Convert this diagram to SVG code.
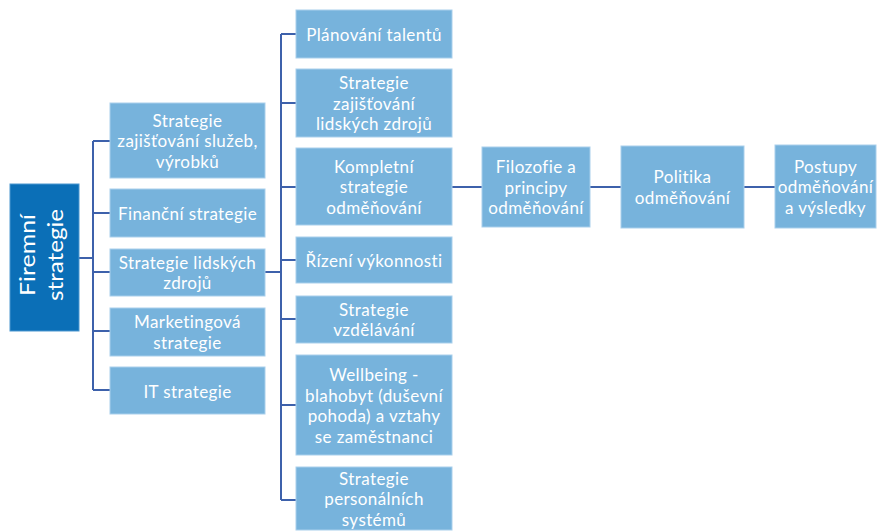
<svg xmlns="http://www.w3.org/2000/svg" width="878" height="531" viewBox="0 0 878 531">
  <style>
    .box { fill: #77b3dc; stroke: #a9cfec; stroke-width: 1; }
    .root { fill: #0b6fb7; stroke: #4d97cf; stroke-width: 1; }
    .lbl { font-family: Lato, "Liberation Sans", sans-serif; font-size: 17px; letter-spacing: 0.4px; fill: #ffffff; text-anchor: middle; }
    .rootlbl { font-family: Lato, "Liberation Sans", sans-serif; font-size: 22px; fill: #ffffff; text-anchor: middle; }
    .wire { fill: none; stroke: #3d61ab; stroke-width: 2; }
  </style>
  <rect width="878" height="531" fill="#ffffff"/>

  <!-- connectors -->
  <g id="connectors">
    <path class="wire" d="M79 258H93M93 141V390M93 141H110M93 213H110M93 272H110M93 331H110M93 390H110"/>
    <path class="wire" d="M265 272H281M281 34V500M281 34H296M281 103H296M281 187H296M281 260H296M281 319H296M281 405H296M281 500H296"/>
    <path class="wire" d="M452 187H482M590 187H621M744 187H775"/>
  </g>

  <!-- root -->
  <g id="firemni-strategie">
    <rect class="root" x="10" y="184" width="69" height="147"/>
    <g transform="translate(44.5 255) rotate(-90)">
      <text class="rootlbl" x="0" y="-9.5" textLength="82" lengthAdjust="spacingAndGlyphs">Firemní</text>
      <text class="rootlbl" x="0" y="18" textLength="92" lengthAdjust="spacingAndGlyphs">strategie</text>
    </g>
  </g>

  <!-- level 1 -->
  <g id="zajistovani-sluzeb">
    <rect class="box" x="110" y="103" width="155" height="75"/>
    <text class="lbl" x="187.5" y="126.5">Strategie</text>
    <text class="lbl" x="187.5" y="147">zajišťování služeb,</text>
    <text class="lbl" x="187.5" y="167.5">výrobků</text>
  </g>
  <g id="financni-strategie">
    <rect class="box" x="110" y="189" width="155" height="48"/>
    <text class="lbl" x="187.5" y="220">Finanční strategie</text>
  </g>
  <g id="strategie-lidskych-zdroju">
    <rect class="box" x="110" y="249" width="155" height="47"/>
    <text class="lbl" x="187.5" y="268.5">Strategie lidských</text>
    <text class="lbl" x="187.5" y="289">zdrojů</text>
  </g>
  <g id="marketingova-strategie">
    <rect class="box" x="110" y="308" width="155" height="48"/>
    <text class="lbl" x="187.5" y="328">Marketingová</text>
    <text class="lbl" x="187.5" y="348.5">strategie</text>
  </g>
  <g id="it-strategie">
    <rect class="box" x="110" y="367" width="155" height="47"/>
    <text class="lbl" x="187.5" y="397.5">IT strategie</text>
  </g>

  <!-- level 2 -->
  <g id="planovani-talentu">
    <rect class="box" x="296" y="10" width="156" height="48"/>
    <text class="lbl" x="374" y="41">Plánování talentů</text>
  </g>
  <g id="zajistovani-lz">
    <rect class="box" x="296" y="69" width="156" height="68"/>
    <text class="lbl" x="374" y="89">Strategie</text>
    <text class="lbl" x="374" y="109.5">zajišťování</text>
    <text class="lbl" x="374" y="130">lidských zdrojů</text>
  </g>
  <g id="kompletni-strategie">
    <rect class="box" x="296" y="148" width="156" height="77"/>
    <text class="lbl" x="374" y="172.5">Kompletní</text>
    <text class="lbl" x="374" y="193">strategie</text>
    <text class="lbl" x="374" y="213.5">odměňování</text>
  </g>
  <g id="rizeni-vykonnosti">
    <rect class="box" x="296" y="237" width="156" height="46"/>
    <text class="lbl" x="374" y="267">Řízení výkonnosti</text>
  </g>
  <g id="strategie-vzdelavani">
    <rect class="box" x="296" y="296" width="156" height="47"/>
    <text class="lbl" x="374" y="315.5">Strategie</text>
    <text class="lbl" x="374" y="336">vzdělávání</text>
  </g>
  <g id="wellbeing">
    <rect class="box" x="296" y="355" width="156" height="100"/>
    <text class="lbl" x="374" y="381">Wellbeing -</text>
    <text class="lbl" x="374" y="401.5">blahobyt (duševní</text>
    <text class="lbl" x="374" y="422">pohoda) a vztahy</text>
    <text class="lbl" x="374" y="442.5">se zaměstnanci</text>
  </g>
  <g id="personalni-systemy">
    <rect class="box" x="296" y="467" width="156" height="63"/>
    <text class="lbl" x="374" y="484.5">Strategie</text>
    <text class="lbl" x="374" y="505">personálních</text>
    <text class="lbl" x="374" y="525.5">systémů</text>
  </g>

  <!-- level 3 -->
  <g id="filozofie">
    <rect class="box" x="482" y="147" width="108" height="80"/>
    <text class="lbl" x="536" y="173">Filozofie a</text>
    <text class="lbl" x="536" y="193.5">principy</text>
    <text class="lbl" x="536" y="214">odměňování</text>
  </g>
  <g id="politika">
    <rect class="box" x="621" y="146" width="123" height="82"/>
    <text class="lbl" x="682.5" y="183">Politika</text>
    <text class="lbl" x="682.5" y="203.5">odměňování</text>
  </g>
  <g id="postupy">
    <rect class="box" x="775" y="145" width="101" height="83"/>
    <text class="lbl" x="825.5" y="172.5">Postupy</text>
    <text class="lbl" x="825.5" y="193">odměňování</text>
    <text class="lbl" x="825.5" y="213.5">a výsledky</text>
  </g>
</svg>
